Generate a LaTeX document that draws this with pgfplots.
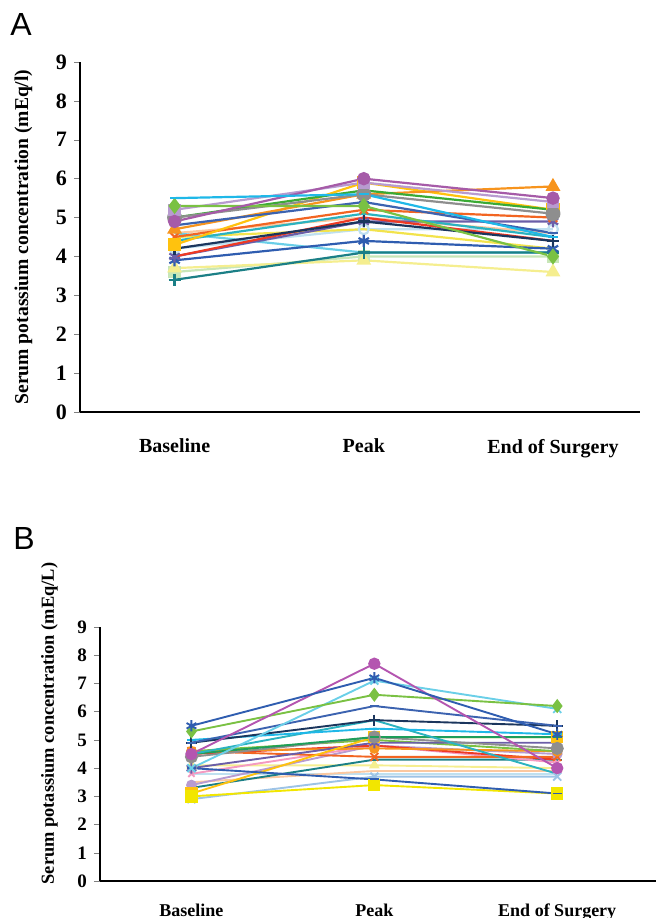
\documentclass[border=0pt]{standalone}
\usepackage{pgfplots}
\pgfplotsset{compat=1.18}
\usepackage{fontspec}
\setmainfont{Liberation Serif}
\newfontfamily\panelfont{Liberation Sans}
\definecolor{cCyan}{HTML}{1FB8E8}
\definecolor{cPurple}{HTML}{A65BA8}
\definecolor{cLime}{HTML}{7AC143}
\definecolor{cLav}{HTML}{B89BD0}
\definecolor{cGray}{HTML}{8E8E8E}
\definecolor{cGreen}{HTML}{3AAA35}
\definecolor{cBlue}{HTML}{3C63B0}
\definecolor{cOrange}{HTML}{F7941D}
\definecolor{cGold}{HTML}{FFC20E}
\definecolor{cOrRed}{HTML}{F26522}
\definecolor{cTeal}{HTML}{2BB3C0}
\definecolor{cNavy}{HTML}{1B365D}
\definecolor{cRed}{HTML}{EE3A24}
\definecolor{cPurpStar}{HTML}{6B5EA8}
\definecolor{cBlue2}{HTML}{2F5DB0}
\definecolor{cLCyan}{HTML}{6ACFE8}
\definecolor{cLYellow}{HTML}{F5EE8F}
\definecolor{cLGreen}{HTML}{C8E6B8}
\definecolor{cDTeal}{HTML}{1B7F86}
\definecolor{cPeach}{HTML}{FBC8A0}
\definecolor{cYellow}{HTML}{F2E34C}
\definecolor{cLBlue}{HTML}{9DC3E6}
\definecolor{cPink}{HTML}{F49AC1}
\definecolor{cGreen2}{HTML}{1E9E5A}
\definecolor{cMag}{HTML}{B455B0}
\definecolor{cYel2}{HTML}{F2E600}
\definecolor{cVLBlue}{HTML}{BFE0F0}
\pgfplotsset{
  panel/.style={
    scale only axis,
    axis lines=left,
    axis line style={-, line width=0.9pt},
    xmin=-0.5, ymin=0, ymax=9,
    xtick={0,1,2},
    xticklabels={Baseline,Peak,End of Surgery},
    ytick={0,1,...,9},
    major x tick style={draw=none},
    tick align=outside,
    major tick length=3pt,
    /pgf/number format/assume math mode=true,
    ticklabel style={font=\bfseries},
    every axis plot/.append style={line width=1.1pt, mark size=2.5pt, mark options={solid}},
  }
}
\begin{document}
\begin{tikzpicture}
\useasboundingbox (0,0) rectangle (328pt,-459pt);
\node[font=\panelfont\fontsize{16}{16}\selectfont] at (10.5pt,-12pt) {A};
\node[font=\panelfont\fontsize{16}{16}\selectfont] at (12pt,-269pt) {B};
% Panel A
\begin{axis}[panel,
  at={(40pt,-206pt)}, anchor=south west,
  width=280pt, height=175pt, xmax=2.46,
  yticklabel style={font=\bfseries\fontsize{11}{11}\selectfont},
  xticklabel style={font=\bfseries\fontsize{10}{10}\selectfont, yshift=-7pt},
  ylabel={\bfseries Serum potassium concentration (mEq/l)},
  ylabel style={font=\fontsize{9.8}{9.8}\selectfont, at={(ticklabel cs:0.5)}, yshift=5pt},
]
\addplot[cVLBlue, mark=o] coordinates {(0,4.2)(1,4.7)(2,4.7)};
\addplot[cLGreen, mark=square*] coordinates {(0,3.6)(1,4.0)(2,4.0)};
\addplot[cLYellow, mark=triangle*, mark size=3.2pt] coordinates {(0,3.7)(1,3.9)(2,3.6)};
\addplot[cPeach, mark=none] coordinates {(0,4.6)(1,5.0)(2,4.6)};
\addplot[cYellow, mark=none] coordinates {(0,4.5)(1,4.7)(2,4.2)};
\addplot[cLCyan, mark=none] coordinates {(0,4.6)(1,4.1)(2,4.1)};
\addplot[cDTeal, mark=+, mark size=3pt] coordinates {(0,3.4)(1,4.1)(2,4.1)};
\addplot[cBlue2, mark=asterisk, mark size=3pt] coordinates {(0,3.9)(1,4.4)(2,4.2)};
\addplot[cPurpStar, mark=asterisk, mark size=3pt] coordinates {(0,4.0)(1,4.9)(2,4.9)};
\addplot[cRed, mark=none] coordinates {(0,4.0)(1,5.0)(2,4.4)};
\addplot[cNavy, mark=+, mark size=3pt] coordinates {(0,4.2)(1,4.9)(2,4.4)};
\addplot[cTeal, mark=-] coordinates {(0,4.4)(1,5.1)(2,4.5)};
\addplot[cOrRed, mark=x, mark size=3pt] coordinates {(0,4.5)(1,5.2)(2,5.0)};
\addplot[cGold, mark=square*, mark size=2.8pt] coordinates {(0,4.3)(1,5.9)(2,5.2)};
\addplot[cOrange, mark=triangle*, mark size=3.2pt] coordinates {(0,4.7)(1,5.6)(2,5.8)};
\addplot[cBlue, mark=-] coordinates {(0,4.8)(1,5.4)(2,4.6)};
\addplot[cGreen, mark=none] coordinates {(0,5.0)(1,5.7)(2,5.2)};
\addplot[cGray, mark=*, mark size=3.2pt] coordinates {(0,5.0)(1,5.6)(2,5.1)};
\addplot[cLav, mark=square*] coordinates {(0,5.2)(1,5.9)(2,5.4)};
\addplot[cLime, mark=diamond*, mark size=3.2pt] coordinates {(0,5.3)(1,5.3)(2,4.0)};
\addplot[cPurple, mark=*, mark size=2.8pt] coordinates {(0,4.9)(1,6.0)(2,5.5)};
\addplot[cCyan, mark=-] coordinates {(0,5.5)(1,5.6)(2,4.5)};
\end{axis}
% Panel B
\begin{axis}[panel,
  at={(50pt,-440.5pt)}, anchor=south west,
  width=278pt, height=127pt, xmax=2.54,
  yticklabel style={font=\bfseries\fontsize{9.5}{9.5}\selectfont},
  xticklabel style={font=\bfseries\fontsize{9}{9}\selectfont, yshift=-5pt},
  ylabel={\bfseries Serum potassium concentration (mEq/L)},
  ylabel style={font=\fontsize{9.2}{9.2}\selectfont, at={(ticklabel cs:0.62)}, yshift=3pt},
  every axis plot/.append style={line width=0.95pt, mark size=2.2pt},
]
\addplot[cVLBlue, mark=none] coordinates {(0,3.8)(1,3.8)(2,3.8)};
\addplot[cLBlue, mark=x, mark size=2.8pt] coordinates {(0,2.9)(1,3.7)(2,3.7)};
\addplot[cPeach, mark=none] coordinates {(0,3.5)(1,3.9)(2,3.9)};
\addplot[cLYellow, mark=triangle*] coordinates {(0,4.1)(1,4.1)(2,4.0)};
\addplot[cDTeal, mark=-] coordinates {(0,3.3)(1,4.3)(2,4.3)};
\addplot[cLav, mark=*] coordinates {(0,3.4)(1,4.8)(2,4.5)};
\addplot[cPink, mark=x] coordinates {(0,3.8)(1,4.8)(2,4.2)};
\addplot[cRed, mark=none] coordinates {(0,4.5)(1,4.8)(2,4.3)};
\addplot[cOrRed, mark=x, mark size=2.8pt] coordinates {(0,4.6)(1,4.4)(2,4.4)};
\addplot[cOrange, mark=*] coordinates {(0,4.6)(1,4.7)(2,4.6)};
\addplot[cLime, mark=none] coordinates {(0,4.6)(1,5.0)(2,4.6)};
\addplot[cPurpStar, mark=asterisk, mark size=2.8pt] coordinates {(0,4.0)(1,4.9)(2,4.9)};
\addplot[cGold, mark=square*, mark size=2.6pt] coordinates {(0,3.1)(1,5.1)(2,5.1)};
\addplot[cGray, mark=*, mark size=2.8pt] coordinates {(0,4.4)(1,5.1)(2,4.7)};
\addplot[cGreen2, mark=-] coordinates {(0,4.5)(1,5.1)(2,5.1)};
\addplot[cTeal, mark=none] coordinates {(0,4.5)(1,5.7)(2,3.8)};
\addplot[cCyan, mark=-] coordinates {(0,5.0)(1,5.4)(2,5.2)};
\addplot[cYel2, mark=square*, mark size=2.6pt] coordinates {(0,3.0)(1,3.4)(2,3.1)};
\addplot[cBlue2, mark=-] coordinates {(0,4.0)(1,3.6)(2,3.1)};
\addplot[cNavy, mark=+, mark size=2.8pt] coordinates {(0,4.9)(1,5.7)(2,5.5)};
\addplot[cBlue, mark=-] coordinates {(0,4.9)(1,6.2)(2,5.5)};
\addplot[cLCyan, mark=x, mark size=2.8pt] coordinates {(0,4.0)(1,7.1)(2,6.1)};
\addplot[cLime, mark=diamond*, mark size=2.8pt] coordinates {(0,5.3)(1,6.6)(2,6.2)};
\addplot[cMag, mark=*, mark size=2.6pt] coordinates {(0,4.5)(1,7.7)(2,4.0)};
\addplot[cBlue2, mark=asterisk, mark size=2.8pt] coordinates {(0,5.5)(1,7.2)(2,5.2)};
\end{axis}
\end{tikzpicture}
\end{document}
